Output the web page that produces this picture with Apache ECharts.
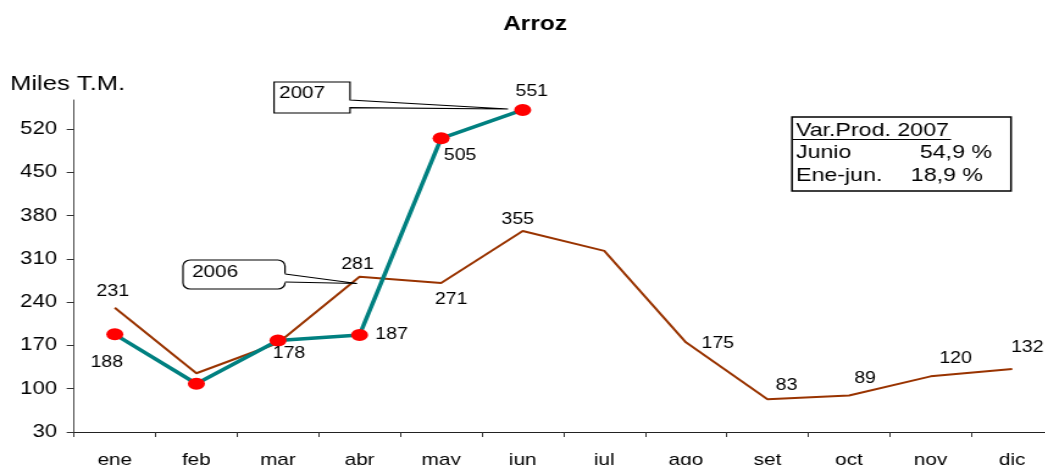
<!DOCTYPE html>
<html>
<head>
<meta charset="utf-8">
<script src="https://cdn.jsdelivr.net/npm/echarts@6/dist/echarts.min.js"></script>
<style>
html,body{margin:0;padding:0;background:#fff;overflow:hidden;}
/* the source chart is stretched horizontally, so draw narrow and stretch */
#chart{width:857px;height:465px;transform:scaleX(1.22);transform-origin:0 0;}
</style>
</head>
<body>
<div id="chart"></div>
<script>
var months = ["ene","feb","mar","abr","may","jun","jul","ago","set","oct","nov","dic"];
var prod2006 = [231,125,174,281,271,355,323,175,83,89,120,132];
var prod2007 = [188,108,178,187,505,551];
var yTicks = [30,100,170,240,310,380,450,520];

var S = 1.22;
var FONT = '"Liberation Sans", Arial, sans-serif';
function px(x){ return x / S; }
function pts(list){ return list.map(function(p){ return [px(p[0]), p[1]]; }); }

// label offsets from the point (picture px), null = no label
var off2006 = [[-2,-16],null,null,[-2,-12],[10,17],[-5,-11],null,[32,1],[19,-14],[16,-17],[25,-18],[15,-21]];
var off2007 = [[-8,28],null,[11,13],[32,0],[19,17.5],[9,-18]];

function items(vals, offs){
  return vals.map(function(v,i){
    var o = offs[i];
    return { value:v, label:{ show:!!o, position:"inside",
      offset: o ? [px(o[0]), o[1]] : [0,0] } };
  });
}

var ch = echarts.init(document.getElementById("chart"), null, {renderer:"canvas"});
var txt = { fontFamily:FONT, fill:"#000" };
function T(x, y, s, size, align, extra){
  var st = Object.assign({ text:s, fontSize:size, align:align||"left", verticalAlign:"middle" }, txt, extra||{});
  return { type:"text", z:20, x:px(x), y:y, style:st };
}

ch.setOption({
  animation:false,
  backgroundColor:"#fff",
  grid:{ left:px(74), top:100, width:px(979), height:332, containLabel:false, outerBoundsMode:"none" },
  xAxis:{
    type:"category", data:months, boundaryGap:true,
    axisLine:{ lineStyle:{ color:"#222", width:1 } },
    axisTick:{ show:true, length:5, lineStyle:{ color:"#333" } },
    axisLabel:{ color:"#000", fontSize:17, fontFamily:FONT, margin:20, interval:0 },
    splitLine:{ show:false }
  },
  yAxis:{
    type:"value", min:30, max:567,
    axisLine:{ show:true, lineStyle:{ color:"#444", width:1 } },
    axisTick:{ show:true, length:6, customValues:yTicks, lineStyle:{ color:"#333" } },
    axisLabel:{ color:"#000", fontSize:18, fontFamily:FONT, margin:14, customValues:yTicks },
    splitLine:{ show:false }
  },
  series:[
    { type:"line", name:"2006", data:items(prod2006, off2006),
      symbol:"circle", symbolSize:1, showAllSymbol:true,
      itemStyle:{ color:"rgba(0,0,0,0)" },
      lineStyle:{ color:"#993300", width:2 },
      label:{ color:"#000", fontSize:16, fontFamily:FONT, align:"center", verticalAlign:"middle" },
      emphasis:{ disabled:true }, z:2 },
    { type:"line", name:"2007", data:items(prod2007, off2007),
      symbol:"circle", symbolSize:[14,12],
      itemStyle:{ color:"#ff0000", borderWidth:0 },
      lineStyle:{ color:"#008080", width:3.5 },
      label:{ color:"#000", fontSize:16, fontFamily:FONT, align:"center", verticalAlign:"middle" },
      emphasis:{ disabled:true }, z:3 }
  ],
  graphic:[
    T(535, 24, "Arroz", 20, "center", { fontWeight:"bold" }),
    T(10, 84, "Miles T.M.", 21),
    // 2007 callout
    { type:"polygon", z:15, shape:{ points:pts([[274,82],[350,82],[350,100],[508,109],[350,107.7],[350,113],[274,113]]) },
      style:{ fill:"#fff", stroke:"#000", lineWidth:1.2 } },
    T(279, 93, "2007", 17),
    // 2006 callout
    { type:"rect", z:15, shape:{ x:px(183), y:260, width:px(285)-px(183), height:29, r:6 },
      style:{ fill:"#fff", stroke:"#000", lineWidth:1.2 } },
    { type:"polygon", z:16, shape:{ points:pts([[283.5,273.5],[357,283.5],[283.5,282.5]]) }, style:{ fill:"#fff" } },
    { type:"polyline", z:17, shape:{ points:pts([[285,274],[357,283.5],[285,282]]) },
      style:{ fill:null, stroke:"#000", lineWidth:1.2 } },
    T(192, 272, "2006", 17),
    // variation box
    { type:"rect", z:15, shape:{ x:px(792), y:117, width:px(1011)-px(792), height:74 },
      style:{ fill:"#fff", stroke:"#000", lineWidth:1.5 } },
    T(796, 130.5, "Var.Prod. 2007", 19),
    { type:"line", z:20, shape:{ x1:px(793), y1:139.5, x2:px(951), y2:139.5 }, style:{ stroke:"#000", lineWidth:1 } },
    T(796, 153, "Junio", 19),
    T(992, 153, "54,9 %", 19, "right"),
    T(796, 176, "Ene-jun.", 19),
    T(983, 176, "18,9 %", 19, "right")
  ]
});
</script>
</body>
</html>
